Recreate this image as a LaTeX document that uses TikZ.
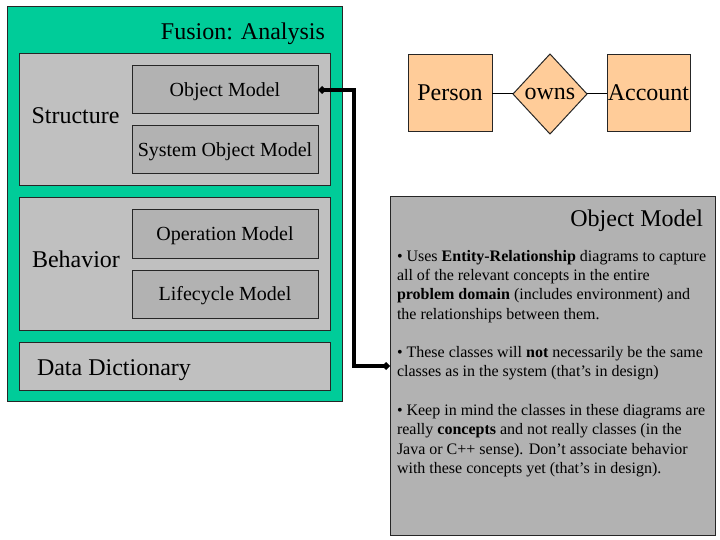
\documentclass[tikz,border=0pt]{standalone}
\usepackage{fontspec}
\setmainfont{Liberation Serif}
\usetikzlibrary{shapes.geometric,arrows.meta}
\definecolor{fusiongreen}{HTML}{00CC99}
\definecolor{panelgray}{HTML}{C0C0C0}
\definecolor{modelgray}{HTML}{B2B2B2}
\definecolor{peach}{HTML}{FFCC99}
\begin{document}
\begin{tikzpicture}[x=1pt, y=-1pt]
\tikzset{
    every node/.style={inner sep=0pt, outer sep=0pt},
    frame/.style={draw=black!85, line width=1pt, anchor=north west},
    panel/.style={frame, fill=panelgray, minimum width=311pt},
    model/.style={frame, fill=modelgray, minimum width=186pt, minimum height=48pt, text height=13.5pt, text depth=0pt, font=\fontsize{20}{24}\selectfont},
    biglabel/.style={font=\fontsize{24}{28}\selectfont},
    entity/.style={draw=black!85, line width=1pt, fill=peach, minimum width=84pt, minimum height=77pt, text height=16pt, text depth=0pt, font=\fontsize{24}{28}\selectfont},
    link/.style={line width=3.5pt, {Diamond[length=8pt,width=8pt]}-{Diamond[length=8pt,width=8pt]}}
}
\useasboundingbox (0,0) rectangle (720,540);

\node[frame, fill=fusiongreen, minimum width=335pt, minimum height=394pt] (analysis) at (7,7) {};
\node[biglabel, anchor=base east] (analysistitle) at (325,39.5) {Fusion: Analysis};

\node[panel, minimum height=132pt] (structure) at (19,54) {};
\node[biglabel, anchor=base west] (structurelabel) at (31.5,123.5) {Structure};
\node[model] (om) at (132,66) {Object Model};
\node[model] (som) at (132,126) {System Object Model};

\node[panel, minimum height=132pt] (behavior) at (19,198) {};
\node[biglabel, anchor=base west] (behaviorlabel) at (32,267.5) {Behavior};
\node[model] (opm) at (132,210) {Operation Model};
\node[model] (lcm) at (132,270) {Lifecycle Model};

\node[panel, minimum height=48pt] (dd) at (19,342) {};
\node[biglabel, anchor=base west] (ddlabel) at (37,375) {Data Dictionary};

\node[entity] (person) at (450,93) {Person};
\node[entity, diamond, aspect=0.9, text height=11pt, minimum width=74pt, minimum height=80pt] (owns) at (550,94) {owns};
\node[entity, minimum width=83pt] (account) at (648.5,93) {Account};
\draw[line width=1pt] (person.east |- owns.west) -- (owns.west);
\draw[line width=1pt] (owns.east) -- (account.west |- owns.east);

\node[frame, fill=modelgray, minimum width=325pt, minimum height=338pt] (desc) at (390,197) {};
\node[biglabel, anchor=base east] (desctitle) at (703,226) {Object Model};
\node[anchor=north west, align=left, font=\fontsize{16}{19.3}\selectfont] (descbody) at (397,250) {%
    • Uses \textbf{Entity-Relationship} diagrams to capture\\
    all of the relevant concepts in the entire\\
    \textbf{problem domain} (includes environment) and\\
    the relationships between them.\\[19.3pt]
    • These classes will \textbf{not} necessarily be the same\\
    classes as in the system (that’s in design)\\[19.3pt]
    • Keep in mind the classes in these diagrams are\\
    really \textbf{concepts} and not really classes (in the\\
    Java or C++ sense). Don’t associate behavior\\
    with these concepts yet (that’s in design).};

\draw[link] (om.east) -- ++(36,0) |- (desc.west);
\end{tikzpicture}
\end{document}
